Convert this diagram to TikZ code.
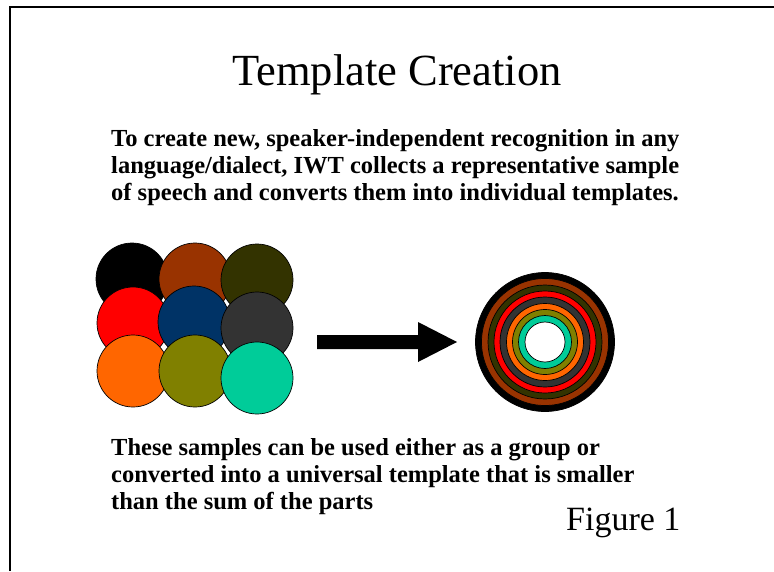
\documentclass[tikz,border=0pt]{standalone}
\usepackage{fontspec}
\setmainfont{Liberation Serif}
\usepackage{tikz}

\definecolor{rust}{HTML}{993300}
\definecolor{moss}{HTML}{333300}
\definecolor{navyblue}{HTML}{003366}
\definecolor{charcoal}{HTML}{333333}
\definecolor{tangerine}{HTML}{FF6600}
\definecolor{olivegreen}{HTML}{808000}
\definecolor{seagreen}{HTML}{00CC99}

\begin{document}
\begin{tikzpicture}[x=1pt,y=-1pt]
            \tikzstyle{every node}+=[inner sep=0pt]
            \tikzstyle{disc}=[circle, draw=black, line width=0.7pt, minimum size=72pt]
            \tikzstyle{ring}=[draw=black, line width=0.7pt]
            \tikzstyle{blurb}=[anchor=base west, align=left, font=\fontsize{24.5}{27}\selectfont\bfseries]
            \useasboundingbox (0,0) rectangle (774,571);
            \draw [black, line width=2pt] (10,571) -- (10,7) -- (774,7);
            \node (title) at (397,85) [anchor=base, font=\fontsize{44.5}{50}\selectfont] {Template Creation};
            \node (intro) at (111,200) [blurb] {To create new, speaker-independent recognition in any\\language/dialect, IWT collects a representative sample\\of speech and converts them into individual templates.};
            \node (disc1) at (132,279) [disc, fill=black] {};
            \node (disc2) at (195,279) [disc, fill=rust] {};
            \node (disc3) at (257,280) [disc, fill=moss] {};
            \node (disc4) at (133,323) [disc, fill=red] {};
            \node (disc5) at (194,322) [disc, fill=navyblue] {};
            \node (disc6) at (257,328) [disc, fill=charcoal] {};
            \node (disc7) at (133,371) [disc, fill=tangerine] {};
            \node (disc8) at (195,371) [disc, fill=olivegreen] {};
            \node (disc9) at (257,378) [disc, fill=seagreen] {};
            \fill [black] (317,335) -- (418,335) -- (418,322) -- (457,342) -- (418,362) -- (418,349) -- (317,349) -- cycle;
            \coordinate (rings) at (545,342);
            \draw [ring, fill=black] (rings) circle [radius=69.5pt];
            \draw [ring, fill=rust] (rings) circle [radius=63.5pt];
            \draw [ring, fill=moss] (rings) circle [radius=57pt];
            \draw [ring, fill=red] (rings) circle [radius=51pt];
            \draw [ring, fill=charcoal] (rings) circle [radius=45pt];
            \draw [ring, fill=tangerine] (rings) circle [radius=38.5pt];
            \draw [ring, fill=olivegreen] (rings) circle [radius=32.5pt];
            \draw [ring, fill=seagreen] (rings) circle [radius=26.5pt];
            \draw [ring, fill=white] (rings) circle [radius=20pt];
            \node (summary) at (111,509) [blurb] {These samples can be used either as a group or\\converted into a universal template that is smaller\\than the sum of the parts};
            \node (caption) at (566,530) [anchor=base west, font=\fontsize{34}{40}\selectfont] {Figure 1};
        \end{tikzpicture}
\end{document}
